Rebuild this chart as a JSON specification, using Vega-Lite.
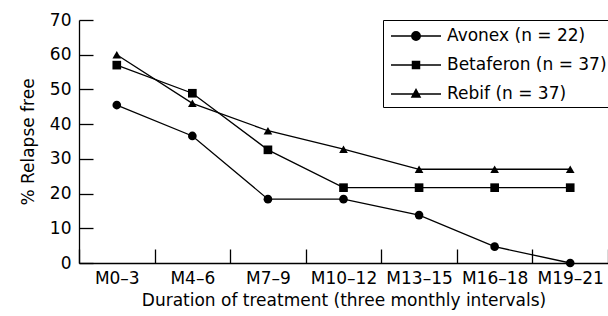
{
  "$schema": "https://vega.github.io/schema/vega-lite/v6.json",
  "width": 529,
  "height": 243,
  "autosize": {"type": "none"},
  "padding": {"left": 79, "top": 20, "right": 0, "bottom": 53},
  "background": "white",
  "config": {
    "font": "DejaVu Sans",
    "view": {"stroke": null},
    "axis": {"grid": false, "domainColor": "black", "tickColor": "black", "labelColor": "black", "titleColor": "black", "labelFontSize": 17, "titleFontSize": 17, "titleFontWeight": "normal", "domainWidth": 1.3, "tickWidth": 1.3}
  },
  "data": {
    "values": [
      {"t": "M0–3", "s": "Avonex (n = 22)", "v": 45.5},
      {"t": "M4–6", "s": "Avonex (n = 22)", "v": 36.6},
      {"t": "M7–9", "s": "Avonex (n = 22)", "v": 18.4},
      {"t": "M10–12", "s": "Avonex (n = 22)", "v": 18.4},
      {"t": "M13–15", "s": "Avonex (n = 22)", "v": 13.8},
      {"t": "M16–18", "s": "Avonex (n = 22)", "v": 4.7},
      {"t": "M19–21", "s": "Avonex (n = 22)", "v": 0},
      {"t": "M0–3", "s": "Betaferon (n = 37)", "v": 57},
      {"t": "M4–6", "s": "Betaferon (n = 37)", "v": 48.9},
      {"t": "M7–9", "s": "Betaferon (n = 37)", "v": 32.6},
      {"t": "M10–12", "s": "Betaferon (n = 37)", "v": 21.7},
      {"t": "M13–15", "s": "Betaferon (n = 37)", "v": 21.7},
      {"t": "M16–18", "s": "Betaferon (n = 37)", "v": 21.7},
      {"t": "M19–21", "s": "Betaferon (n = 37)", "v": 21.7},
      {"t": "M0–3", "s": "Rebif (n = 37)", "v": 60},
      {"t": "M4–6", "s": "Rebif (n = 37)", "v": 46},
      {"t": "M7–9", "s": "Rebif (n = 37)", "v": 38.1},
      {"t": "M10–12", "s": "Rebif (n = 37)", "v": 32.8},
      {"t": "M13–15", "s": "Rebif (n = 37)", "v": 27},
      {"t": "M16–18", "s": "Rebif (n = 37)", "v": 27},
      {"t": "M19–21", "s": "Rebif (n = 37)", "v": 27}
    ]
  },
  "encoding": {
    "x": {
      "field": "t", "type": "ordinal",
      "sort": ["M0–3", "M4–6", "M7–9", "M10–12", "M13–15", "M16–18", "M19–21"],
      "scale": {"type": "band", "paddingInner": 0, "paddingOuter": 0},
      "axis": {"title": "Duration of treatment (three monthly intervals)", "labelAngle": 0, "tickBand": "extent", "tickSize": -14, "labelPadding": 21, "titlePadding": 6}
    },
    "y": {
      "field": "v", "type": "quantitative",
      "scale": {"domain": [0, 70], "nice": false},
      "axis": {"title": "% Relapse free", "values": [0, 10, 20, 30, 40, 50, 60, 70], "tickSize": -14, "labelPadding": 22, "titlePadding": 12}
    }
  },
  "layer": [
    {
      "mark": {"type": "line", "color": "black", "strokeWidth": 1.3},
      "encoding": {"detail": {"field": "s"}}
    },
    {
      "mark": {"type": "point", "filled": true, "color": "black", "opacity": 1, "size": 75},
      "encoding": {
        "shape": {"field": "s", "type": "nominal", "scale": {"range": ["circle", "square", "triangle-up"]}, "legend": null}
      }
    },
    {
      "mark": {"type": "point", "filled": false, "color": "black", "strokeWidth": 1.3, "opacity": 0, "size": 10},
      "encoding": {
        "shape": {
          "field": "s", "type": "nominal",
          "scale": {"range": [
            "M-2.5,0H2.5M0.43,0A0.43,0.43,0,1,1,-0.43,0A0.43,0.43,0,1,1,0.43,0ZM-0.158,-0.4H0.158M-0.308,-0.3H0.308M-0.381,-0.2H0.381M-0.418,-0.1H0.418M-0.418,0.1H0.418M-0.381,0.2H0.381M-0.308,0.3H0.308M-0.158,0.4H0.158",
            "M-2.5,0H2.5M-0.36,-0.36H0.36V0.36H-0.36ZM-0.36,-0.3H0.36M-0.36,-0.2H0.36M-0.36,-0.1H0.36M-0.36,0.1H0.36M-0.36,0.2H0.36M-0.36,0.3H0.36",
            "M-2.5,0H2.5M0,-0.46L0.42,0.3H-0.42ZM-0.088,-0.3H0.088M-0.144,-0.2H0.144M-0.199,-0.1H0.199M-0.309,0.1H0.309M-0.365,0.2H0.365"
          ]},
          "legend": {
            "title": null, "orient": "none", "legendX": 304, "legendY": 0,
            "strokeColor": "black", "fillColor": "white", "padding": 5,
            "labelFontSize": 17, "labelColor": "black", "labelOffset": 20,
            "symbolSize": 400, "symbolOffset": 17, "symbolOpacity": 1,
            "symbolStrokeColor": "black", "symbolStrokeWidth": 1.3, "rowPadding": 10
          }
        }
      }
    }
  ],
  "resolve": {"scale": {"shape": "independent"}, "legend": {"shape": "independent"}}
}
